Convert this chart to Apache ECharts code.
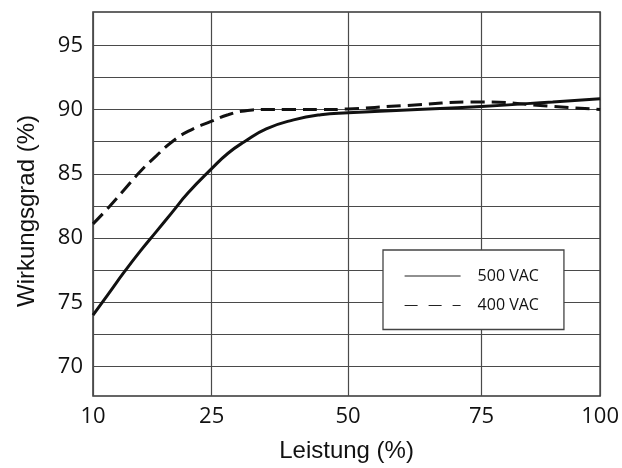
<!DOCTYPE html>
<html>
<head>
<meta charset="utf-8">
<script src="https://cdn.jsdelivr.net/npm/echarts@6/dist/echarts.min.js"></script>
<style>
  html, body { margin: 0; padding: 0; background: #fff; }
  #chart { width: 622px; height: 468px; }
</style>
</head>
<body>
<div id="chart"></div>
<script>
// ---- data ----
const loadPct = [10, 12, 14, 16, 18, 20, 22, 25, 28, 31, 35, 40, 45, 50, 60, 75, 90, 100];
const eff500  = [74.0, 75.7, 77.4, 79.0, 80.5, 82.0, 83.5, 85.4, 86.6, 87.5, 88.5, 89.2, 89.6, 89.75, 89.95, 90.25, 90.6, 90.85];
const eff400  = [81.1, 82.4, 83.8, 85.2, 86.4, 87.5, 88.3, 89.1, 89.6, 89.9, 90.0, 90.0, 90.0, 90.05, 90.3, 90.6, 90.25, 90.0];
const xTickLabels = [10, 25, 50, 75, 100];
const yGridValues = [70, 72.5, 75, 77.5, 80, 82.5, 85, 87.5, 90, 92.5, 95];
const yTickLabels = [70, 75, 80, 85, 90, 95];
const seriesNames = ['500 VAC', '400 VAC'];

// The original x axis is not linear: its ticks sit at these relative positions (0..100).
const xTickPos = [0, 23.4, 50.3, 76.6, 100];
function warpX(x) {
  for (let i = 0; i < xTickLabels.length - 1; i++) {
    const a = xTickLabels[i], b = xTickLabels[i + 1];
    if (x <= b || i === xTickLabels.length - 2) {
      const t = (x - a) / (b - a);
      return xTickPos[i] + t * (xTickPos[i + 1] - xTickPos[i]);
    }
  }
  return x;
}
function labelForPos(v) {
  let best = 0;
  for (let i = 0; i < xTickPos.length; i++) {
    if (Math.abs(xTickPos[i] - v) < Math.abs(xTickPos[best] - v)) best = i;
  }
  return String(xTickLabels[best]);
}

const chart = echarts.init(document.getElementById('chart'), null, { renderer: 'canvas' });
const tickFont = 'Open Sans';
const nameFont = 'Liberation Sans';

chart.setOption({
  animation: false,
  backgroundColor: '#fff',
  grid: {
    left: 93, right: 21, top: 12, bottom: 67,
    show: true, borderColor: '#333', borderWidth: 1.5, backgroundColor: '#fff'
  },
  legend: {
    orient: 'vertical',
    left: 383, top: 250,
    backgroundColor: '#fff',
    borderColor: '#444',
    borderWidth: 1.3,
    borderRadius: 0,
    padding: [18, 25, 16, 21],
    itemGap: 13.5,
    itemWidth: 56,
    itemHeight: 16,
    itemStyle: { color: 'transparent', borderWidth: 0, opacity: 0 },
    lineStyle: { width: 1.2, color: '#222' },
    textStyle: { fontFamily: tickFont, fontSize: 16, color: '#111', padding: [0, 0, 0, 12] },
    data: [
      { name: seriesNames[0] },
      { name: seriesNames[1], lineStyle: { type: [13, 11], width: 1.2, color: '#222' } }
    ]
  },
  xAxis: {
    type: 'value',
    min: 0, max: 100,
    name: 'Leistung (%)',
    nameLocation: 'middle',
    nameGap: 43,
    nameTextStyle: { fontFamily: nameFont, fontSize: 24, color: '#111' },
    axisLine: { show: false },
    axisTick: { show: false, customValues: xTickPos },
    splitLine: { show: true, lineStyle: { color: '#4a4a4a', width: 1.2 } },
    axisLabel: {
      customValues: xTickPos,
      showMinLabel: true, showMaxLabel: true,
      formatter: labelForPos,
      fontFamily: tickFont, fontSize: 22, color: '#111', margin: 10
    }
  },
  yAxis: {
    type: 'value',
    min: 67.7, max: 97.6,
    name: 'Wirkungsgrad (%)',
    nameLocation: 'middle',
    nameGap: 54,
    nameTextStyle: { fontFamily: nameFont, fontSize: 24, color: '#111', padding: [0, 14, 0, 0] },
    axisLine: { show: false },
    axisTick: { show: false, customValues: yGridValues },
    splitLine: { show: true, lineStyle: { color: '#4a4a4a', width: 1.2 } },
    axisLabel: {
      customValues: yTickLabels,
      formatter: v => String(v),
      fontFamily: tickFont, fontSize: 22, color: '#111', margin: 10
    }
  },
  series: [
    {
      name: seriesNames[0],
      type: 'line',
      symbol: 'none',
      smooth: 0.5,
      lineStyle: { color: '#111', width: 3, type: 'solid' },
      itemStyle: { color: '#111' },
      data: loadPct.map((x, i) => [warpX(x), eff500[i]]),
      z: 3
    },
    {
      name: seriesNames[1],
      type: 'line',
      symbol: 'none',
      smooth: 0.5,
      lineStyle: { color: '#111', width: 3, type: [14, 7] },
      itemStyle: { color: '#111' },
      data: loadPct.map((x, i) => [warpX(x), eff400[i]]),
      z: 3
    }
  ]
});
</script>
</body>
</html>
